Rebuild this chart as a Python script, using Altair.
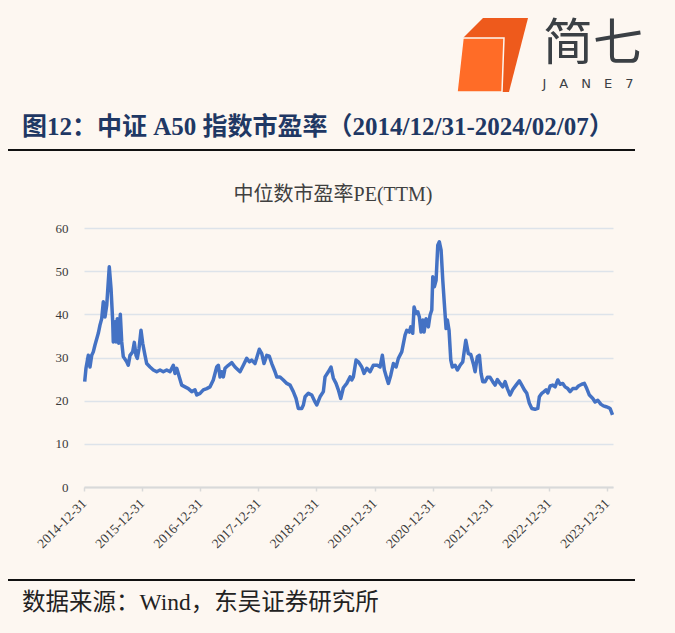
import altair as alt
import pandas as pd

# ---- data ----
# time offsets (years after 2014-12-31) and median PE(TTM)
t_years = [
    0.012, 0.034, 0.074, 0.103, 0.133, 0.160, 0.189, 0.246, 0.275, 0.305,
    0.332, 0.361, 0.391, 0.435, 0.465, 0.494, 0.504, 0.534, 0.551, 0.573,
    0.597, 0.625, 0.649, 0.676, 0.735, 0.762, 0.792, 0.838, 0.866, 0.895,
    0.917, 0.947, 0.981, 1.010, 1.050, 1.079, 1.136, 1.193, 1.251, 1.308,
    1.365, 1.423, 1.480, 1.537, 1.566, 1.596, 1.640, 1.682, 1.738, 1.795,
    1.854, 1.910, 1.940, 1.997, 2.053, 2.112, 2.169, 2.225, 2.284, 2.312,
    2.341, 2.370, 2.398, 2.427, 2.484, 2.542, 2.599, 2.685, 2.742, 2.800,
    2.845, 2.886, 2.943, 3.017, 3.059, 3.098, 3.145, 3.189, 3.231, 3.287,
    3.317, 3.373, 3.430, 3.489, 3.546, 3.602, 3.649, 3.688, 3.747, 3.775,
    3.804, 3.861, 3.919, 3.976, 4.005, 4.062, 4.119, 4.148, 4.205, 4.251,
    4.291, 4.337, 4.377, 4.418, 4.463, 4.522, 4.578, 4.608, 4.635, 4.682,
    4.721, 4.780, 4.819, 4.866, 4.923, 4.979, 5.048, 5.095, 5.134, 5.169,
    5.210, 5.238, 5.279, 5.324, 5.370, 5.410, 5.468, 5.525, 5.554, 5.599,
    5.623, 5.657, 5.680, 5.714, 5.744, 5.771, 5.800, 5.830, 5.852, 5.886,
    5.926, 5.955, 5.985, 6.002, 6.029, 6.059, 6.088, 6.115, 6.145, 6.174,
    6.201, 6.231, 6.253, 6.282, 6.312, 6.339, 6.386, 6.425, 6.472, 6.518,
    6.570, 6.614, 6.656, 6.701, 6.730, 6.769, 6.804, 6.833, 6.862, 6.902,
    6.942, 6.988, 7.034, 7.074, 7.114, 7.160, 7.206, 7.246, 7.286, 7.332,
    7.379, 7.435, 7.492, 7.534, 7.578, 7.620, 7.664, 7.706, 7.762, 7.809,
    7.836, 7.878, 7.917, 7.952, 7.981, 8.021, 8.067, 8.107, 8.153, 8.193,
    8.239, 8.279, 8.325, 8.365, 8.411, 8.468, 8.508, 8.566, 8.611, 8.652,
    8.697, 8.756, 8.795, 8.842, 8.893, 8.938, 8.985, 9.024, 9.053, 9.095,
]
pe_values = [
    24.4, 27.5, 30.5, 27.8, 30.5, 31.3, 32.9, 35.6, 37.5, 39.0,
    42.9, 39.4, 42.1, 51.0, 46.0, 38.3, 33.6, 38.3, 33.6, 39.0,
    33.3, 40.0, 33.6, 30.2, 29.0, 28.2, 30.5, 31.3, 33.5, 30.5,
    29.8, 32.1, 36.3, 33.3, 30.5, 28.6, 27.8, 27.1, 26.7, 27.1,
    26.7, 27.1, 26.7, 28.2, 26.3, 27.5, 25.5, 23.6, 23.2, 22.8,
    22.1, 22.5, 21.3, 21.7, 22.5, 22.8, 23.2, 24.8, 27.8, 28.2,
    25.5, 26.7, 25.5, 27.5, 28.2, 28.8, 27.8, 26.7, 28.2, 29.8,
    29.0, 29.4, 28.6, 31.9, 30.9, 28.6, 30.5, 30.3, 28.6, 26.7,
    25.5, 25.5, 24.8, 24.0, 23.6, 22.1, 20.5, 18.2, 18.2, 19.0,
    20.9, 21.7, 21.3, 19.7, 19.0, 20.9, 22.1, 25.5, 26.7, 27.8,
    25.2, 24.0, 22.5, 20.5, 23.0, 24.0, 25.5, 24.8, 25.5, 29.4,
    29.0, 27.8, 26.3, 27.5, 26.7, 28.2, 28.2, 27.8, 30.5, 27.1,
    25.2, 24.0, 25.9, 28.6, 27.8, 29.8, 31.3, 35.2, 36.3, 35.9,
    37.1, 35.6, 41.7, 40.2, 40.6, 39.4, 35.9, 38.7, 35.9, 39.0,
    37.1, 39.8, 41.0, 48.7, 46.4, 47.9, 56.0, 56.8, 54.9, 47.9,
    42.5, 36.7, 38.7, 36.3, 29.4, 27.8, 28.2, 27.1, 28.2, 29.0,
    34.0, 30.9, 30.7, 28.5, 26.7, 30.2, 30.5, 26.3, 24.4, 24.4,
    25.4, 25.4, 24.4, 23.6, 24.9, 24.0, 23.2, 24.4, 22.8, 21.3,
    22.6, 23.6, 24.6, 23.6, 22.5, 21.7, 19.4, 18.2, 18.0, 18.2,
    20.9, 21.7, 22.1, 22.5, 21.8, 23.4, 23.6, 23.2, 24.8, 23.8,
    24.0, 23.2, 22.8, 22.1, 22.8, 22.8, 23.4, 23.8, 24.0, 22.8,
    21.3, 20.5, 19.7, 20.1, 19.2, 18.8, 18.6, 18.4, 18.2, 16.7,
]
tick_years = [2014, 2015, 2016, 2017, 2018, 2019, 2020, 2021, 2022, 2023]
y_ticks = [0, 10, 20, 30, 40, 50, 60]

header_text = "图12：中证 A50 指数市盈率（2014/12/31-2024/02/07）"
chart_title = "中位数市盈率PE(TTM)"
source_text = "数据来源：Wind，东吴证券研究所"
logo_cn = "简七"
logo_en = "J\u2003A\u2003N\u2003E\u20037"

start = pd.Timestamp("2014-12-31")
df = pd.DataFrame({
    "date": [start + pd.Timedelta(days=float(t) * 365.25) for t in t_years],
    "pe": pe_values,
})
one = pd.DataFrame({"k": [0]})

SERIF = "Liberation Serif, Noto Sans CJK SC"
BG = "#FDF7F1"
W, H = 529, 259
PL, PT = 84, 228  # plot origin on the page

line = alt.Chart(df).mark_line(color="#4472C4", strokeWidth=3.5, strokeJoin="round").encode(
    x=alt.X(
        "date:T",
        title=None,
        scale=alt.Scale(
            domain=[alt.DateTime(year=2014, month=12, date=31),
                    alt.DateTime(year=2024, month=2, date=7)],
            nice=False,
        ),
        axis=alt.Axis(
            values=[alt.DateTime(year=y, month=12, date=31) for y in tick_years],
            format="%Y-%m-%d",
            labelAngle=-45,
            labelAlign="right",
            labelBaseline="middle",
            labelFont="Liberation Serif",
            labelFontSize=13.5,
            labelColor="#3A3A3A",
            labelPadding=10,
            grid=False,
            domainColor="#D9D9D9",
            domainWidth=2,
            tickColor="#D9D9D9",
            tickSize=4,
            tickWidth=1.5,
        ),
    ),
    y=alt.Y(
        "pe:Q",
        title=None,
        scale=alt.Scale(domain=[0, 60], nice=False),
        axis=alt.Axis(
            values=y_ticks,
            labelFont="Liberation Serif",
            labelFontSize=13,
            labelColor="#3A3A3A",
            labelPadding=16,
            domain=False,
            ticks=False,
            gridColor="#DDE3EA",
            gridWidth=1.5,
        ),
    ),
)

def text_layer(txt, x, y, **kw):
    return alt.Chart(pd.DataFrame({"label": [txt]})).mark_text(**kw).encode(
        text="label:N", x=alt.value(x - PL), y=alt.value(y - PT)
    )

header = text_layer(header_text, 22, 127, font=SERIF, fontSize=25, fontWeight="bold",
                    color="#1F3864", align="left", baseline="middle")
title = text_layer(chart_title, 333, 195, font=SERIF, fontSize=20,
                   color="#404040", align="center", baseline="middle")
source = text_layer(source_text, 22, 603, font=SERIF, fontSize=23.5,
                    color="#222222", align="left", baseline="middle")
logo_text = text_layer(logo_cn, 593, 45, font="Noto Sans CJK SC", fontSize=50,
                       color="#3B4045", align="center", baseline="middle")
logo_sub = text_layer(logo_en, 588, 84, font="DejaVu Sans", fontSize=13,
                      color="#3B4045", align="center", baseline="middle")

rule_top = alt.Chart(one).mark_rule(color="#111111", strokeWidth=2).encode(
    x=alt.value(8 - PL), x2=alt.value(635 - PL), y=alt.value(150 - PT))
rule_bottom = alt.Chart(one).mark_rule(color="#111111", strokeWidth=2).encode(
    x=alt.value(8 - PL), x2=alt.value(635 - PL), y=alt.value(580 - PT))

back_path = "M-0.243,-1L0.973,-1L0.459,1L-0.811,1L-0.784,-0.459Z"
front_path = "M-0.784,-0.459L0.324,-0.459L0.27,1L-0.946,1Z"
logo_back = alt.Chart(one).mark_point(shape=back_path, filled=True, fill="#EE5A1C",
                                      opacity=1, size=5476, strokeWidth=0).encode(
    x=alt.value(492 - PL), y=alt.value(55 - PT))
logo_front = alt.Chart(one).mark_point(shape=front_path, filled=True, fill="#FF6C27",
                                       opacity=1, size=5476, stroke=BG, strokeWidth=1.5).encode(
    x=alt.value(492 - PL), y=alt.value(55 - PT))

chart = alt.layer(
    line, header, title, source, rule_top, rule_bottom,
    logo_back, logo_front, logo_text, logo_sub,
).properties(
    width=W, height=H,
    autosize=alt.AutoSizeParams(type="none"),
    padding={"left": PL, "top": PT, "right": 675 - PL - W, "bottom": 633 - PT - H},
).configure(background=BG).configure_view(stroke=None)

chart.save("out.html", embed_options={"renderer": "svg", "actions": False})
